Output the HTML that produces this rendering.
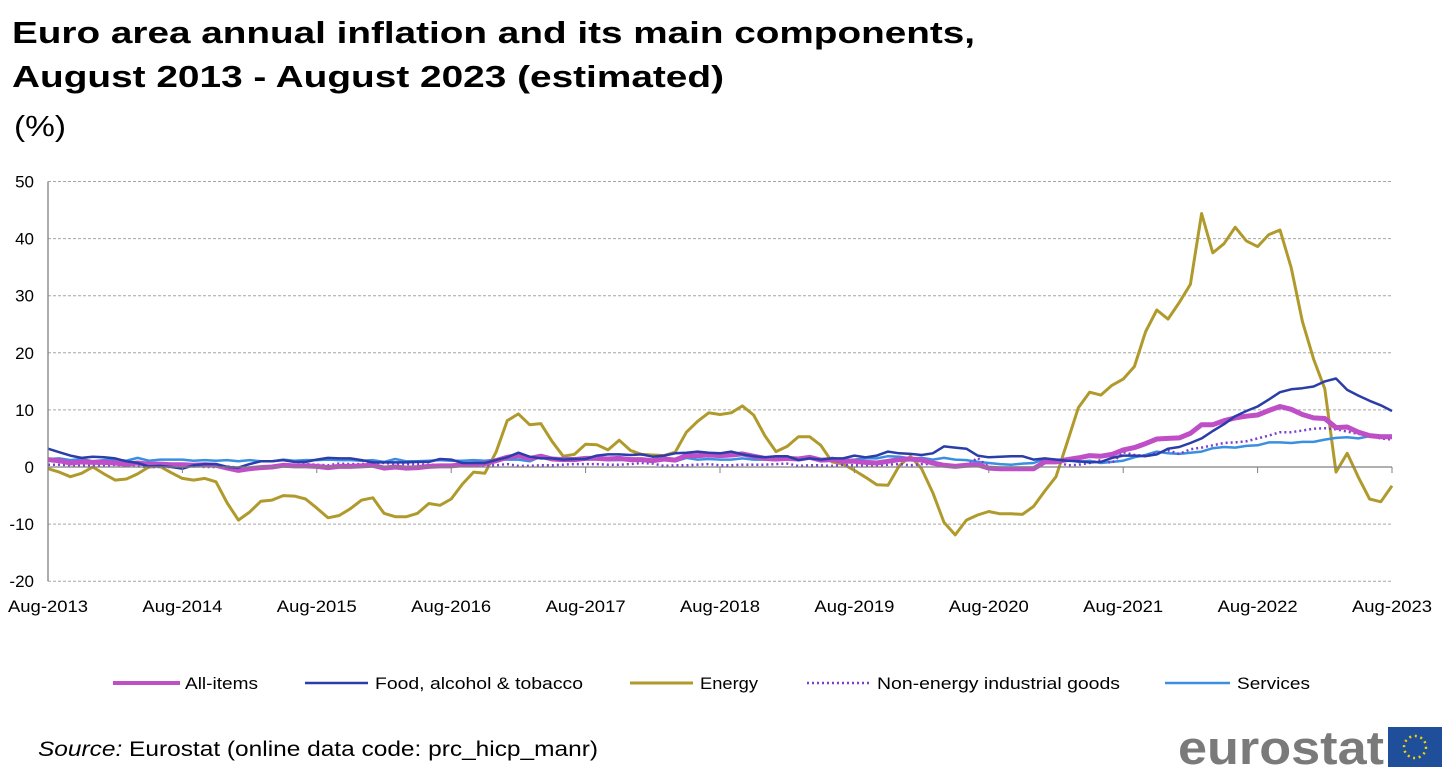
<!DOCTYPE html>
<html><head><meta charset="utf-8"><style>
body{margin:0;background:#fff;width:1456px;height:772px;overflow:hidden;font-family:"Liberation Sans",Arial,sans-serif}
svg{position:absolute;left:0;top:0}
</style></head><body>
<svg width="1456" height="772" id="chart">
<text x="12" y="43" font-size="31" font-weight="bold" fill="#000" textLength="963" lengthAdjust="spacingAndGlyphs">Euro area annual inflation and its main components,</text>
<text x="12" y="87" font-size="31" font-weight="bold" fill="#000" textLength="712" lengthAdjust="spacingAndGlyphs">August 2013 - August 2023 (estimated)</text>
<text x="14" y="136" font-size="29" fill="#000" textLength="52" lengthAdjust="spacingAndGlyphs">(%)</text>
<g id="grid"></g><g id="series"></g><g id="axes"></g><g id="legend"></g>
<text x="38" y="756" font-size="21" fill="#000" textLength="560" lengthAdjust="spacingAndGlyphs"><tspan font-style="italic">Source:</tspan> Eurostat (online data code: prc_hicp_manr)</text>
<text x="1178" y="764" font-size="47" font-weight="bold" fill="#7a7a7a" textLength="206" lengthAdjust="spacingAndGlyphs">eurostat</text>
<g><rect x="1388" y="727" width="54" height="40" fill="#1f4e9a"/><circle cx="1415" cy="747" r="11" fill="none" stroke="#f5d300" stroke-width="2.5" stroke-dasharray="2 3.7"/></g>
</svg>
<script>
const xLabels=["Aug-2013","Aug-2014","Aug-2015","Aug-2016","Aug-2017","Aug-2018","Aug-2019","Aug-2020","Aug-2021","Aug-2022","Aug-2023"];
const yTicks=[50,40,30,20,10,0,-10,-20];
const allItems=[1.3,1.1,0.7,0.9,0.8,
0.8,0.7,0.5,0.7,0.5,0.5,0.4,0.4,0.3,0.4,0.3,-0.2,
-0.6,-0.3,-0.1,0.0,0.3,0.2,0.2,0.1,-0.1,0.1,0.1,0.2,
0.3,-0.2,0.0,-0.2,-0.1,0.1,0.2,0.2,0.4,0.5,0.6,1.1,
1.7,2.0,1.5,1.9,1.4,1.3,1.3,1.5,1.5,1.4,1.5,1.3,
1.3,1.1,1.4,1.2,2.0,2.0,2.1,2.0,2.1,2.3,1.9,1.5,
1.4,1.5,1.4,1.7,1.2,1.3,1.0,1.0,0.8,0.7,1.0,1.3,
1.4,1.2,0.7,0.3,0.1,0.3,0.4,-0.2,-0.3,-0.3,-0.3,-0.3,
0.9,0.9,1.3,1.6,2.0,1.9,2.2,3.0,3.4,4.1,4.9,5.0,
5.1,5.9,7.4,7.4,8.1,8.6,8.9,9.1,9.9,10.6,10.1,9.2,
8.6,8.5,6.9,7.0,6.1,5.5,5.3,5.3];
const food=[3.2,2.6,2.0,1.6,1.8,
1.7,1.5,1.0,0.7,0.1,0.2,0.0,-0.3,0.3,0.5,0.5,0.0,
-0.1,0.5,1.0,1.0,1.2,0.9,0.9,1.3,1.6,1.5,1.5,1.2,
0.8,0.8,0.8,0.8,0.9,0.9,1.4,1.3,0.7,0.7,0.7,1.2,
1.7,2.5,1.8,1.5,1.5,1.3,1.4,1.4,2.0,2.2,2.2,2.1,
2.2,1.8,2.0,2.4,2.5,2.7,2.5,2.4,2.7,2.2,1.9,1.7,
1.9,1.9,1.2,1.5,1.3,1.5,1.5,2.0,1.7,2.0,2.7,2.4,
2.3,2.1,2.4,3.6,3.4,3.2,2.0,1.7,1.8,1.9,1.9,1.3,
1.5,1.3,1.1,1.0,0.8,0.9,1.6,2.0,2.0,1.9,2.2,3.2,
3.5,4.2,5.0,6.3,7.5,8.9,9.8,10.6,11.8,13.1,13.6,13.8,
14.1,15.0,15.5,13.5,12.5,11.6,10.8,9.8];
const energy=[-0.3,-0.9,-1.7,-1.1,0.0,
-1.2,-2.3,-2.1,-1.2,0.0,0.1,-1.0,-2.0,-2.3,-2.0,-2.6,-6.3,
-9.3,-7.9,-6.0,-5.8,-5.0,-5.1,-5.6,-7.2,-8.9,-8.5,-7.3,-5.8,
-5.4,-8.1,-8.7,-8.7,-8.1,-6.4,-6.7,-5.6,-3.0,-0.9,-1.1,2.6,
8.1,9.3,7.4,7.6,4.5,1.9,2.2,4.0,3.9,3.0,4.7,2.9,
2.2,2.1,2.0,2.6,6.1,8.0,9.5,9.2,9.5,10.7,9.1,5.5,
2.7,3.6,5.3,5.3,3.8,0.9,0.5,-0.6,-1.8,-3.1,-3.2,0.2,
1.9,-0.3,-4.5,-9.7,-11.9,-9.3,-8.4,-7.8,-8.2,-8.2,-8.3,-6.9,
-4.2,-1.7,4.3,10.4,13.1,12.6,14.3,15.4,17.6,23.7,27.5,25.9,
28.8,32.0,44.4,37.5,39.1,42.0,39.6,38.6,40.7,41.5,34.9,25.5,
18.9,13.7,-0.9,2.4,-1.8,-5.6,-6.1,-3.3];
const neig=[0.4,0.4,0.3,0.3,0.3,
0.2,0.4,0.2,0.1,0.0,0.0,0.0,0.3,0.2,0.0,0.0,0.1,
-0.1,-0.1,-0.1,0.1,0.3,0.4,0.5,0.4,0.3,0.6,0.5,0.5,
0.7,0.7,0.5,0.5,0.5,0.4,0.4,0.3,0.3,0.3,0.3,0.3,
0.5,0.2,0.2,0.3,0.3,0.4,0.5,0.5,0.5,0.4,0.4,0.5,
0.7,0.6,0.2,0.3,0.3,0.4,0.5,0.3,0.3,0.4,0.4,0.4,
0.5,0.6,0.2,0.3,0.3,0.2,0.4,0.3,0.3,0.3,0.4,0.5,
0.3,0.5,0.5,0.3,0.2,0.2,1.6,0.0,-0.1,-0.1,-0.3,-0.5,
1.5,1.0,0.3,0.4,0.7,1.2,0.7,2.6,2.1,2.0,2.4,2.9,
2.3,3.1,3.4,3.8,4.2,4.3,4.5,5.0,5.5,6.1,6.1,6.4,
6.7,6.8,6.6,6.2,5.8,5.5,5.0,4.8];
const services=[1.4,1.5,1.2,1.4,1.0,
1.2,1.3,1.1,1.6,1.1,1.3,1.3,1.3,1.1,1.2,1.1,1.2,
1.0,1.2,1.0,1.0,1.3,1.1,1.2,1.2,1.3,1.2,1.2,1.1,
1.2,0.9,1.4,1.0,1.0,1.1,1.2,1.1,1.1,1.2,1.1,1.3,
1.3,1.3,1.0,1.8,1.3,1.6,1.5,1.6,1.5,1.2,1.2,1.3,
1.2,1.3,1.5,1.0,1.6,1.3,1.4,1.3,1.3,1.5,1.3,1.3,
1.2,1.4,1.3,1.9,1.0,1.6,1.2,1.3,1.5,1.5,1.9,1.8,
1.5,1.6,1.3,1.6,1.3,1.2,0.9,0.7,0.5,0.4,0.6,0.7,
1.4,1.3,1.3,0.9,1.1,0.7,0.9,1.1,1.7,2.1,2.7,2.4,
2.3,2.5,2.7,3.3,3.5,3.4,3.7,3.8,4.3,4.3,4.2,4.4,
4.4,4.8,5.1,5.2,5.0,5.4,5.5,5.5];

const NS="http://www.w3.org/2000/svg";
const X0=48,X1=1392,Y0=467,PX10=57.1;
const nPts=energy.length;
function xs(i){return X0+(X1-X0)*i/(nPts-1);}
function ys(v){return Y0-v*PX10/10;}
function mk(tag,attrs,parent){const e=document.createElementNS(NS,tag);for(const k in attrs)e.setAttribute(k,attrs[k]);document.getElementById(parent).appendChild(e);return e;}

yTicks.forEach(t=>{
  if(t!==0){const g=mk('line',{x1:X0,x2:X1,y1:ys(t),y2:ys(t),stroke:'#a6a6a6','stroke-width':1,'stroke-dasharray':'3 2'},'grid');
  
  }
  const tl=mk('text',{x:X0-14,y:ys(t)+6,'font-size':17,'text-anchor':'end',fill:'#000'},'axes');
  tl.textContent=t;
  
  
});
const ax=mk('line',{x1:X0,x2:X1,y1:Y0,y2:Y0,stroke:'#808080','stroke-width':1.3},'axes');


const ay=mk('line',{x1:X0,x2:X0,y1:ys(50),y2:ys(-20),stroke:'#808080','stroke-width':1.3},'axes');


xLabels.forEach((l,k)=>{
  const x=xs(k*12);
  const tk=mk('line',{x1:x,x2:x,y1:Y0,y2:Y0+6,stroke:'#808080'},'axes');
  
  
  const tl=mk('text',{x:x,y:612,'font-size':17,'text-anchor':'middle',fill:'#000',textLength:80,lengthAdjust:'spacingAndGlyphs'},'axes');
  tl.textContent=l;
  
  
});
const defs=[
 {d:energy,c:'#B09A2C',w:3,dash:null,n:'energy-line'},
 {d:services,c:'#3A8FE0',w:2.5,dash:null,n:'services-line'},
 {d:neig,c:'#7B3FD0',w:2.5,dash:'2 3',n:'non-energy-industrial-goods-line'},
 {d:allItems,c:'#BF4FC7',w:5,dash:null,n:'all-items-line'},
 {d:food,c:'#2A3DA8',w:2.5,dash:null,n:'food-alcohol-tobacco-line'}];
defs.forEach(s=>{
  const p=mk('polyline',{points:s.d.map((v,i)=>xs(i).toFixed(1)+','+ys(v).toFixed(1)).join(' '),fill:'none',stroke:s.c,'stroke-width':s.w,'stroke-linejoin':'round'},'series');
  if(s.dash)p.setAttribute('stroke-dasharray',s.dash);
  
  
});
const leg=[
 {t:'All-items',c:'#BF4FC7',w:4,x1:113,x2:180,tx:185,len:73,dash:null},
 {t:'Food, alcohol & tobacco',c:'#2A3DA8',w:2.5,x1:305,x2:368,tx:375,len:208,dash:null},
 {t:'Energy',c:'#B09A2C',w:3,x1:630,x2:693,tx:700,len:58,dash:null},
 {t:'Non-energy industrial goods',c:'#7B3FD0',w:2.5,x1:807,x2:870,tx:877,len:243,dash:'2 3'},
 {t:'Services',c:'#3A8FE0',w:2.5,x1:1165,x2:1230,tx:1237,len:73,dash:null}];
leg.forEach(e=>{
  const l=mk('line',{x1:e.x1,x2:e.x2,y1:683,y2:683,stroke:e.c,'stroke-width':e.w},'legend');
  if(e.dash)l.setAttribute('stroke-dasharray',e.dash);
  
  
  const t=mk('text',{x:e.tx,y:689,'font-size':17,fill:'#000',textLength:e.len,lengthAdjust:'spacingAndGlyphs'},'legend');
  t.textContent=e.t;
  
  
});
</script>
</body></html>
